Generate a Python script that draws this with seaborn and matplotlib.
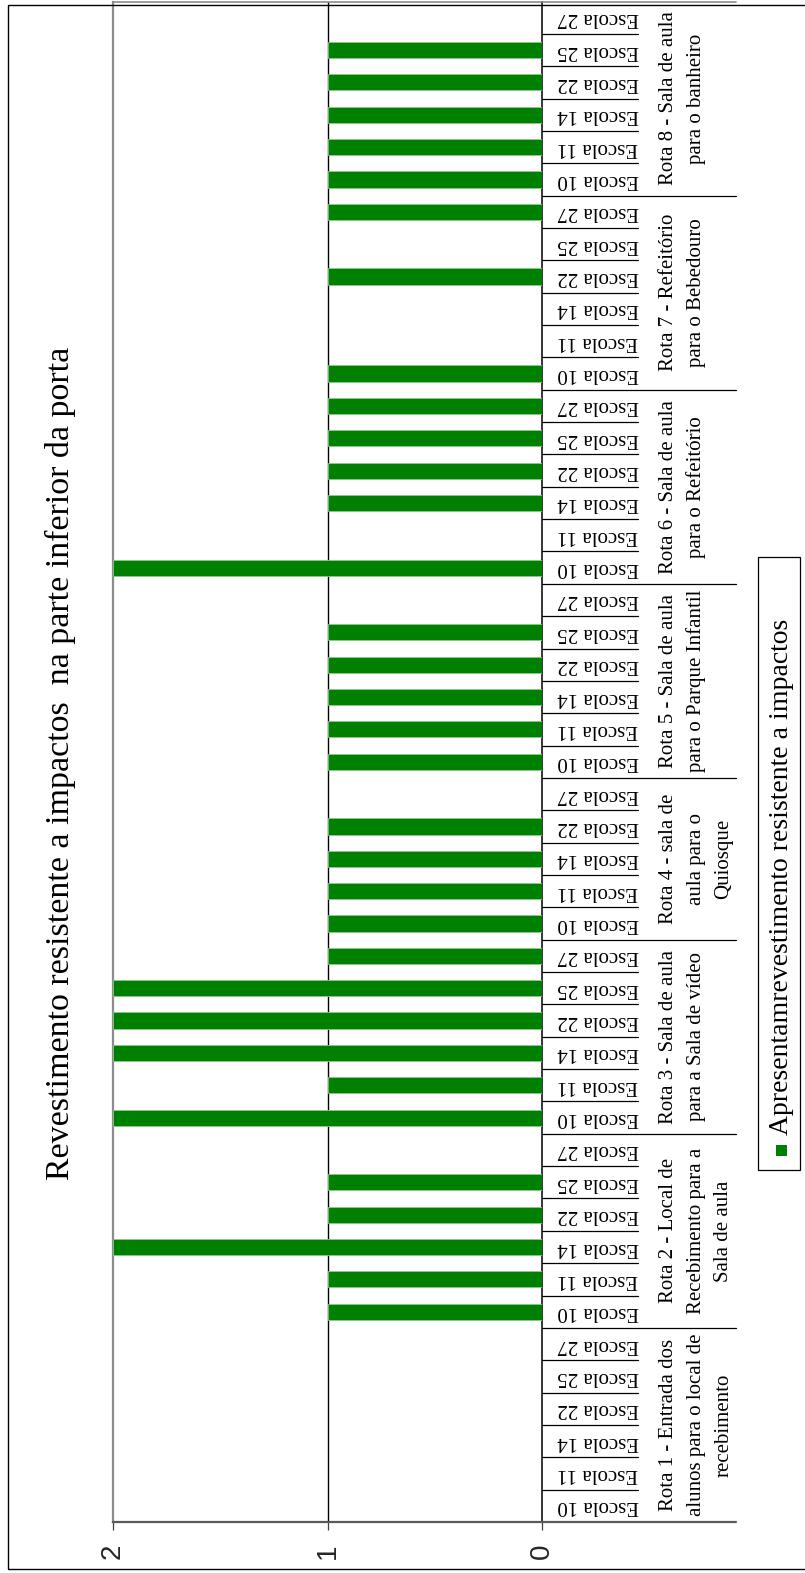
import matplotlib
matplotlib.use("Agg")
import matplotlib.pyplot as plt
import matplotlib.transforms as mtransforms
from matplotlib.patches import Rectangle
import pandas as pd
import seaborn as sns

# ---- data -------------------------------------------------------------
titulo = "Revestimento resistente a impactos  na parte inferior da porta"
legenda = "Apresentamrevestimento resistente a impactos"

rotas = [
    ["Rota 1 - Entrada dos", "alunos para o local de", "recebimento"],
    ["Rota 2 - Local de", "Recebimento para a", "Sala de aula"],
    ["Rota 3 - Sala de aula", "para a Sala de vídeo"],
    ["Rota 4 - sala de", "aula para o", "Quiosque"],
    ["Rota 5 - Sala de aula", "para o Parque Infantil"],
    ["Rota 6 - Sala de aula", "para o Refeitório"],
    ["Rota 7 - Refeitório", "para o Bebedouro"],
    ["Rota 8 - Sala de aula", "para o banheiro"],
]

escolas_6 = ["Escola 10", "Escola 11", "Escola 14", "Escola 22", "Escola 25", "Escola 27"]
escolas_5 = ["Escola 10", "Escola 11", "Escola 14", "Escola 22", "Escola 27"]
escolas_por_rota = [escolas_6, escolas_6, escolas_6, escolas_5,
                    escolas_6, escolas_6, escolas_6, escolas_6]

rota1 = [0, 0, 0, 0, 0, 0]
rota2 = [1, 1, 2, 1, 1, 0]
rota3 = [2, 1, 2, 2, 2, 1]
rota4 = [1, 1, 1, 1, 0]
rota5 = [1, 1, 1, 1, 1, 0]
rota6 = [2, 0, 1, 1, 1, 1]
rota7 = [1, 0, 0, 1, 0, 1]
rota8 = [1, 1, 1, 1, 1, 0]
valores_por_rota = [rota1, rota2, rota3, rota4, rota5, rota6, rota7, rota8]

valores_eixo = [0, 1, 2]

# ---- table ------------------------------------------------------------
linhas = []
for r, (escolas, valores) in enumerate(zip(escolas_por_rota, valores_por_rota)):
    for e, v in zip(escolas, valores):
        linhas.append({"rota": r, "escola": e, "valor": v, "chave": f"{r}|{e}"})
df = pd.DataFrame(linhas)
n = len(df)

# ---- figure -----------------------------------------------------------
W, H = 805, 1573
sns.set_theme(style="white")
plt.rcParams["font.family"] = ["Liberation Serif", "DejaVu Serif"]

fig = plt.figure(figsize=(W / 100, H / 100), dpi=100)
fig.patch.set_facecolor("white")

ax_left, ax_right, ax_top, ax_bottom = 113, 542, 1.5, 1522
ax = fig.add_axes([ax_left / W, 1 - ax_bottom / H,
                   (ax_right - ax_left) / W, (ax_bottom - ax_top) / H])

verde = "#008000"
sns.barplot(data=df, x="valor", y="chave", orient="h", order=list(df["chave"]),
            color=verde, saturation=1, width=0.5, edgecolor="#8cc88c",
            linewidth=0.6, ax=ax, zorder=3)

ax.set_ylim(-0.5, n - 0.5)
ax.set_xlim(2, 0)
ax.axvline(1, color="black", lw=1.0, zorder=1)

ax.set_yticks([])
ax.set_xlabel("")
ax.set_ylabel("")
ax.set_xticks(valores_eixo)
ax.set_xticklabels([str(v) for v in valores_eixo], rotation=90,
                   fontfamily="Liberation Sans", fontsize=20)
ax.tick_params(axis="x", direction="out", length=5.8, width=0.9,
               color="#404040", pad=10, bottom=True)

for side, col, lw in [("top", "#8c8c8c", 1.2), ("left", "#8c8c8c", 1.6),
                      ("right", "black", 1.1), ("bottom", "#5a5a5a", 1.6)]:
    ax.spines[side].set_visible(True)
    ax.spines[side].set_color(col)
    ax.spines[side].set_linewidth(lw)

# ---- category axis (to the right of the bars) -------------------------
trans = mtransforms.blended_transform_factory(fig.transFigure, ax.transData)
x0 = ax_right / W
x_escola_end = 638 / W
x_rota_end = 736 / W

inicio_rotas = []
k = 0
for escolas in escolas_por_rota:
    inicio_rotas.append(k)
    k += len(escolas)

for b in range(1, n):
    fim = x_rota_end if b in inicio_rotas else x_escola_end
    ax.plot([x0, fim], [b - 0.5, b - 0.5], transform=trans, color="black",
            lw=0.9, clip_on=False, zorder=5)
ax.plot([x0, x_rota_end], [n - 0.5, n - 0.5], transform=trans, color="#8c8c8c",
        lw=1.2, clip_on=False)
ax.plot([x0, x_rota_end], [-0.5, -0.5], transform=trans, color="#5a5a5a",
        lw=1.6, clip_on=False)

for i, e in enumerate(df["escola"]):
    ax.text(598 / W, i, e, transform=trans, rotation=180, ha="center",
            va="center", fontsize=15, color="black")

for r, linhas_rota in enumerate(rotas):
    ini = inicio_rotas[r]
    centro = ini + (len(escolas_por_rota[r]) - 1) / 2
    for j, txt in enumerate(linhas_rota):
        ax.text((673 + 27.7 * j) / W, centro, txt, transform=trans,
                rotation=90, rotation_mode="anchor", ha="center",
                va="baseline", fontsize=15, color="black")

# ---- title --------------------------------------------------------------
fig.text(60 / W, 1 - 763 / H, titulo, rotation=90, ha="center", va="center",
         fontsize=24.5, color="black")

# ---- legend -------------------------------------------------------------
fig.add_artist(Rectangle((758 / W, 1 - 1170 / H), (800 - 758) / W, (1170 - 557) / H,
                         transform=fig.transFigure, fill=False, ec="black", lw=0.9))
fig.add_artist(Rectangle((776 / W, 1 - 1156 / H), 11 / W, 11 / H,
                         transform=fig.transFigure, fc=verde, ec="none"))
fig.text(781 / W, 1 - 1135 / H, legenda, rotation=90, rotation_mode="anchor",
         ha="left", va="center", fontsize=20, color="black")

# ---- outer frame ----------------------------------------------------------
fig.add_artist(Rectangle((8 / W, 1 - 1569 / H), (812 - 8) / W, (1569 - 4.7) / H,
                         transform=fig.transFigure, fill=False, ec="black", lw=1.0))

fig.savefig("out.png", dpi=100, facecolor="white")
